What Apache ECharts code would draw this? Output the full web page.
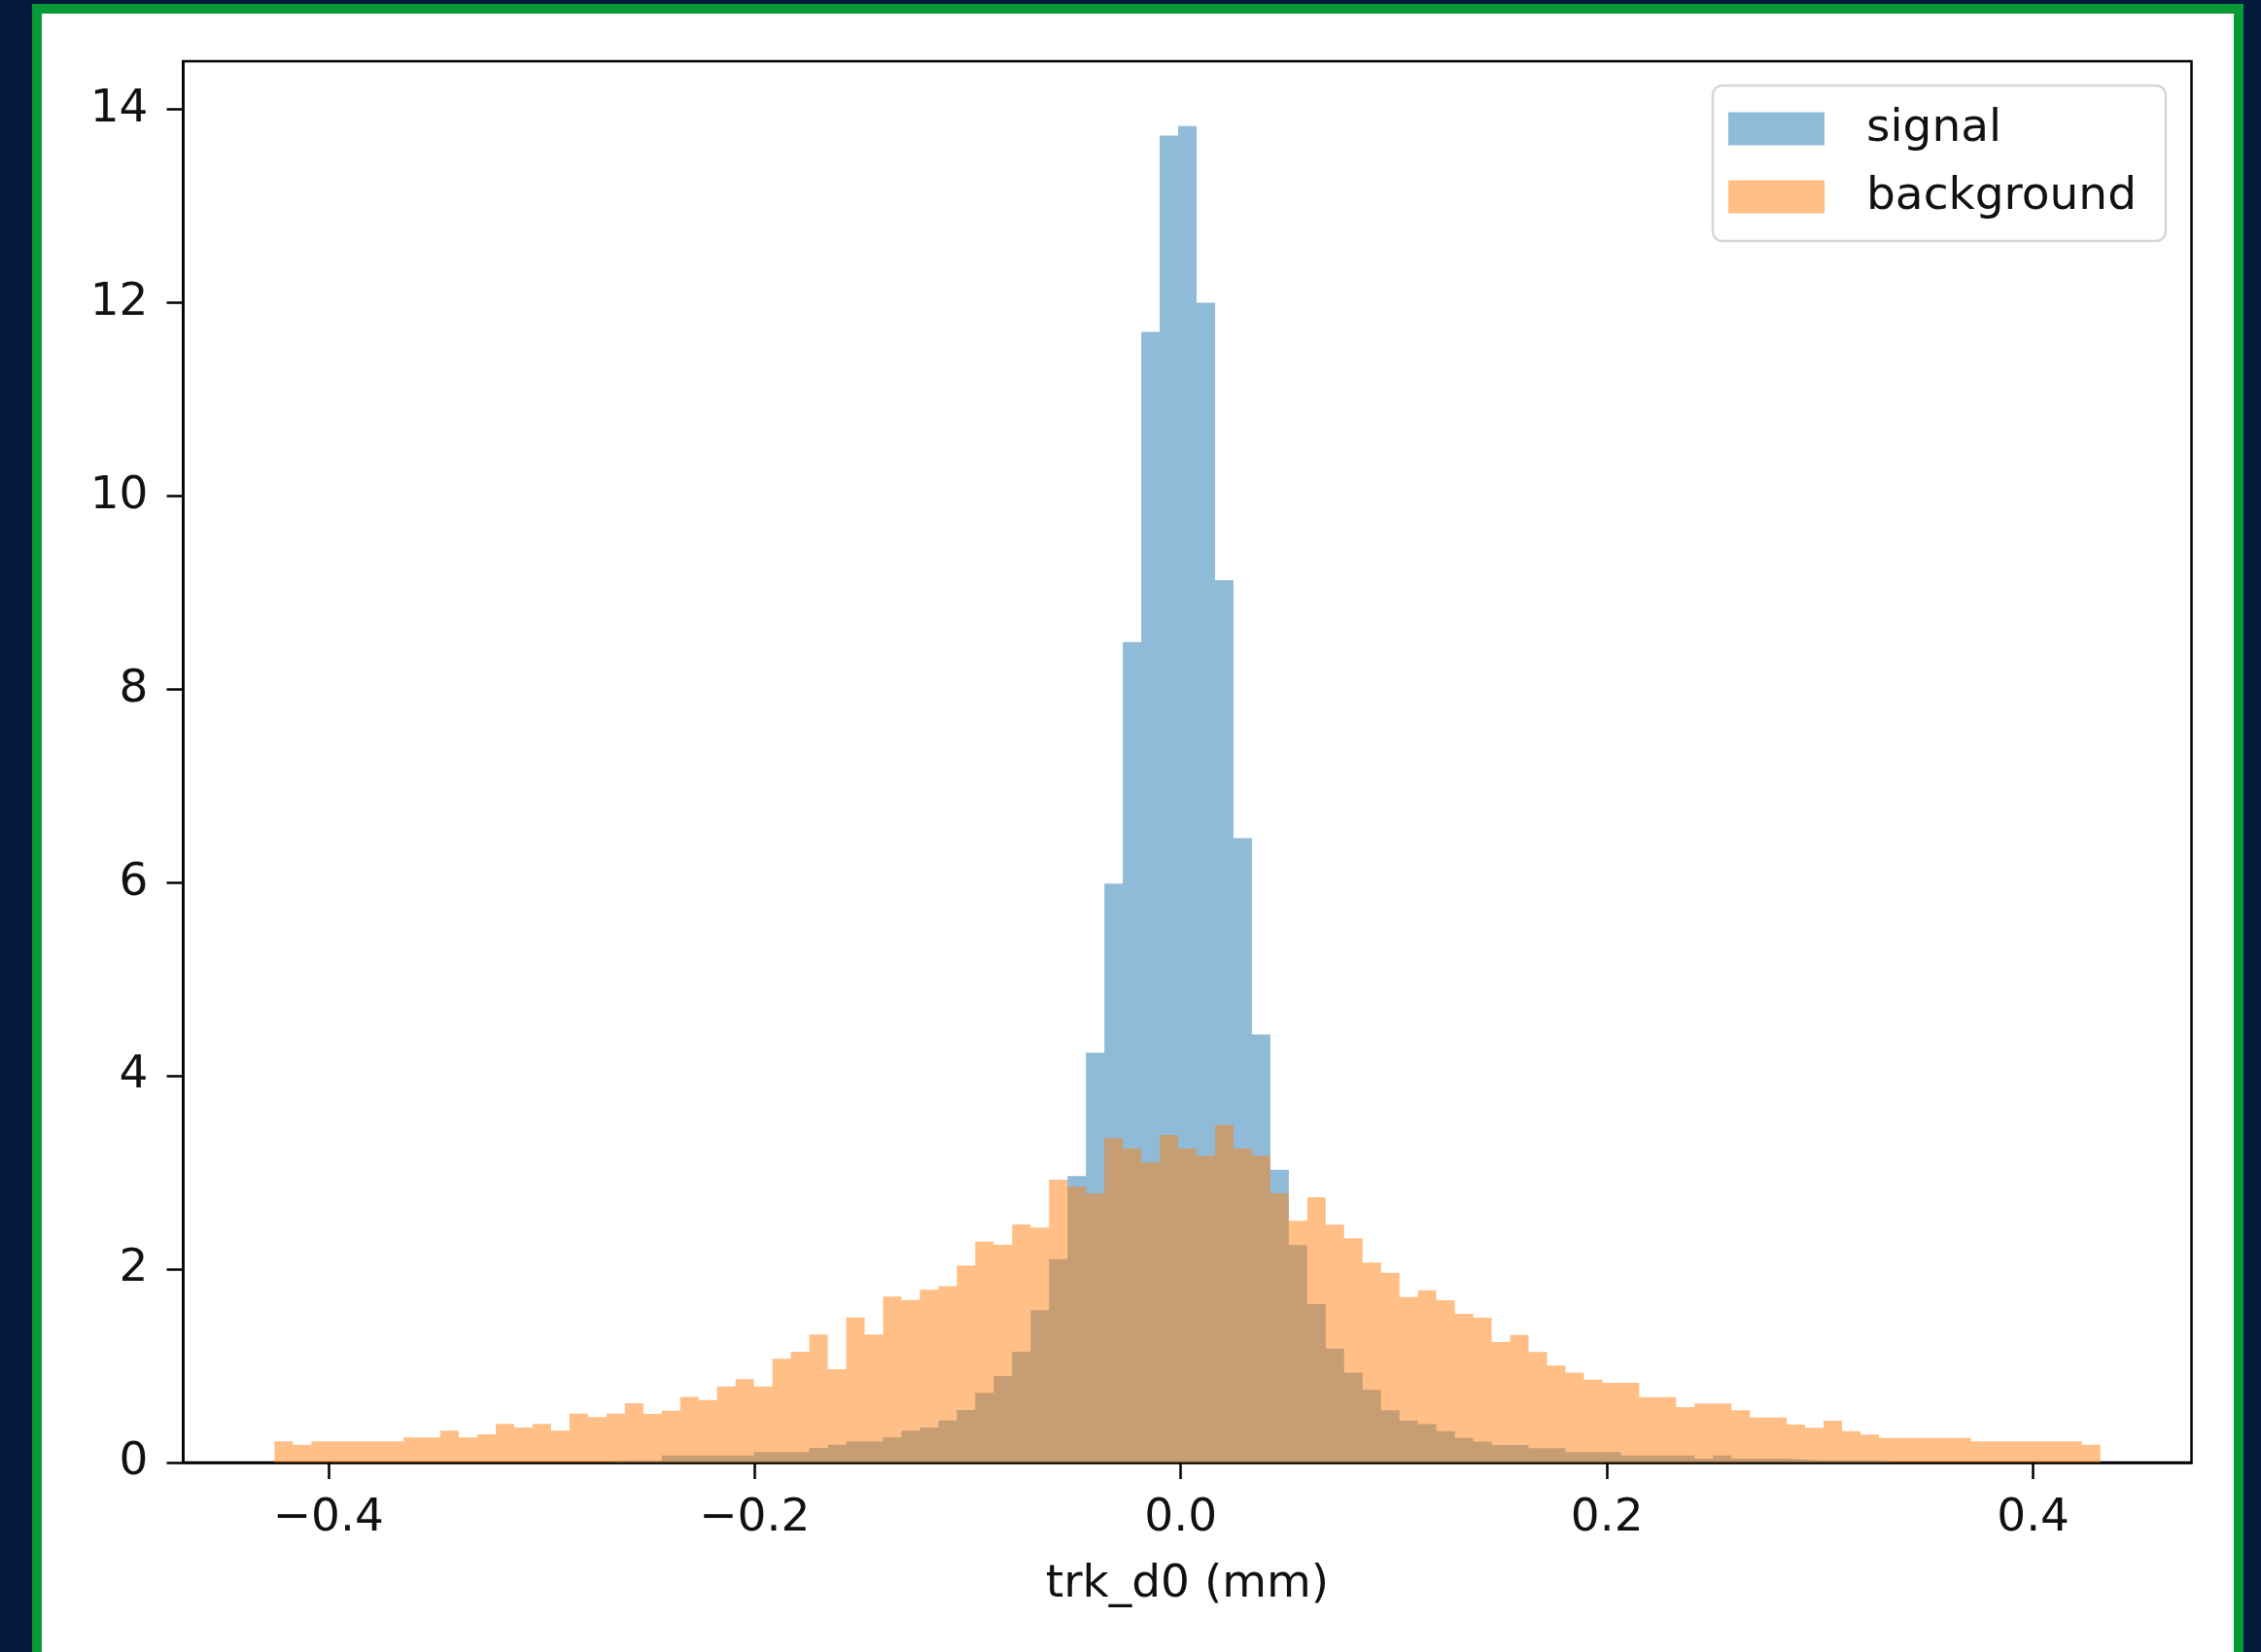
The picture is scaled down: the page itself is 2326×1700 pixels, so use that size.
<!DOCTYPE html>
<html>
<head>
<meta charset="utf-8">
<script src="https://cdn.jsdelivr.net/npm/echarts@6.0.0/dist/echarts.min.js"></script>
<style>
  html, body { margin: 0; padding: 0; width: 2326px; height: 1700px; overflow: hidden; background: #03193a; }
  #frame { position: absolute; left: 33px; top: 4px; width: 2255px; height: 1800px; border: 10px solid #079a36; background: #fff; }
  #chart { position: absolute; left: 0; top: 0; width: 2326px; height: 1700px; }
</style>
</head>
<body>
<div id="frame"></div>
<div id="chart"></div>
<script>
// histogram range (mm) and bin count, as in np.linspace(lo, hi, 100)
var binLo = -0.4253;
var binHi = 0.4315;
var nBins = 99;

var xTicks = [-0.4, -0.2, 0, 0.2, 0.4];
var yTicks = [0, 2, 4, 6, 8, 10, 12, 14];

// density per bin
var signal = [
  0, 0, 0, 0, 0, 0, 0, 0, 0, 0,
  0, 0, 0, 0, 0, 0, 0, 0, 0.015, 0.015,
  0.015, 0.074, 0.074, 0.074, 0.074, 0.074, 0.107, 0.107, 0.107, 0.151,
  0.184, 0.218, 0.218, 0.258, 0.329, 0.362, 0.436, 0.543, 0.721, 0.895,
  1.146, 1.576, 2.105, 2.963, 4.24, 5.99, 8.49, 11.7, 13.73, 13.83,
  12.0, 9.13, 6.46, 4.43, 3.03, 2.249, 1.639, 1.18, 0.929, 0.751,
  0.54, 0.432, 0.396, 0.325, 0.255, 0.215, 0.181, 0.181, 0.148, 0.148,
  0.107, 0.107, 0.107, 0.074, 0.074, 0.074, 0.074, 0.04, 0.074, 0.04,
  0.04, 0.04, 0.03, 0.02, 0.02, 0.02, 0.02, 0, 0, 0,
  0, 0, 0, 0, 0, 0, 0, 0, 0
];
var background = [
  0.218, 0.184, 0.218, 0.218, 0.218, 0.218, 0.218, 0.258, 0.258, 0.329,
  0.258, 0.292, 0.399, 0.362, 0.399, 0.329, 0.506, 0.469, 0.506, 0.613,
  0.503, 0.536, 0.68, 0.647, 0.788, 0.862, 0.788, 1.073, 1.146, 1.324,
  0.965, 1.502, 1.324, 1.716, 1.683, 1.787, 1.824, 2.038, 2.286, 2.253,
  2.464, 2.43, 2.927, 2.856, 2.786, 3.356, 3.248, 3.104, 3.389, 3.248,
  3.175, 3.493, 3.248, 3.175, 2.786, 2.501, 2.746, 2.461, 2.32, 2.068,
  1.964, 1.713, 1.783, 1.68, 1.539, 1.499, 1.247, 1.321, 1.143, 1.002,
  0.929, 0.858, 0.825, 0.825, 0.677, 0.677, 0.573, 0.61, 0.61, 0.54,
  0.466, 0.466, 0.392, 0.359, 0.432, 0.325, 0.288, 0.255, 0.255, 0.255,
  0.255, 0.255, 0.218, 0.218, 0.218, 0.218, 0.218, 0.218, 0.184
];

// step points: value i held from edge i to edge i+1
function stepData(values) {
  var w = (binHi - binLo) / nBins;
  var out = [];
  for (var i = 0; i <= nBins; i++) {
    out.push([binLo + i * w, values[Math.min(i, nBins - 1)]]);
  }
  return out;
}

var font = 'DejaVu Sans';
var chart = echarts.init(document.getElementById('chart'), null, { renderer: 'canvas' });

var option = {
  animation: false,
  grid: {
    left: 188.5, right: 71.5, top: 63, bottom: 195,
    containLabel: false,
    show: true, borderColor: '#000', borderWidth: 2.5, backgroundColor: 'transparent'
  },
  legend: {
    orient: 'vertical',
    left: 1762, top: 88,
    padding: [21, 30, 22, 16],
    itemWidth: 99, itemHeight: 34, itemGap: 23,
    icon: 'rect',
    backgroundColor: '#fff',
    borderColor: 'rgba(204,204,204,0.8)', borderWidth: 2.5, borderRadius: 10,
    itemStyle: { borderWidth: 0 },
    textStyle: { fontFamily: font, fontSize: 47, color: '#111', lineHeight: 34, padding: [0, 0, 0, 38] },
    data: ['signal', 'background']
  },
  xAxis: {
    type: 'value',
    min: -0.4681, max: 0.4743,
    name: 'trk_d0 (mm)',
    nameLocation: 'middle',
    nameGap: 102,
    nameTextStyle: { fontFamily: font, fontSize: 47, color: '#111' },
    axisLine: { show: true, onZero: false, lineStyle: { color: '#000', width: 2.5 } },
    axisTick: { show: true, length: 17, customValues: xTicks, lineStyle: { color: '#000', width: 2.5 } },
    axisLabel: {
      customValues: xTicks, margin: 34,
      fontFamily: font, fontSize: 47, color: '#111',
      formatter: function (v) { return (v < 0 ? '\u2212' : '') + Math.abs(v).toFixed(1); }
    },
    splitLine: { show: false }
  },
  yAxis: {
    type: 'value',
    min: 0, max: 14.5,
    axisLine: { show: true, onZero: false, lineStyle: { color: '#000', width: 2.5 } },
    axisTick: { show: true, length: 17, customValues: yTicks, lineStyle: { color: '#000', width: 2.5 } },
    axisLabel: {
      customValues: yTicks, margin: 36,
      padding: [12, 0, 0, 0],
      fontFamily: font, fontSize: 47, color: '#111'
    },
    splitLine: { show: false }
  },
  series: [
    {
      name: 'signal',
      type: 'line',
      step: 'end',
      data: stepData(signal),
      showSymbol: false, symbol: 'none',
      color: 'rgba(31,119,180,0.5)',
      lineStyle: { width: 0, opacity: 0 },
      areaStyle: { color: 'rgba(31,119,180,0.5)', opacity: 1, origin: 'start' }
    },
    {
      name: 'background',
      type: 'line',
      step: 'end',
      data: stepData(background),
      showSymbol: false, symbol: 'none',
      color: 'rgba(255,127,14,0.5)',
      lineStyle: { width: 0, opacity: 0 },
      areaStyle: { color: 'rgba(255,127,14,0.5)', opacity: 1, origin: 'start' }
    }
  ]
};

chart.setOption(option);
</script>
</body>
</html>
